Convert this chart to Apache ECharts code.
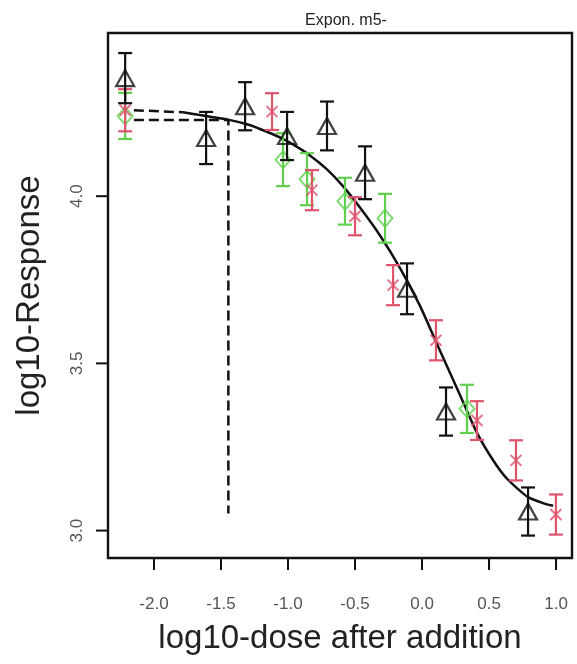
<!DOCTYPE html>
<html>
<head>
<meta charset="utf-8">
<script src="https://cdn.jsdelivr.net/npm/echarts@6/dist/echarts.min.js"></script>
<style>html,body{margin:0;padding:0;background:#fff}#c{width:577px;height:664px}</style>
</head>
<body>
<div id="c"></div>
<script>
// ---- data ----
const titleText = 'Expon. m5-';
const xTitle = 'log10-dose after addition';
const yTitle = 'log10-Response';
const xTicks = [-2.0, -1.5, -1.0, -0.5, 0.0, 0.5, 1.0];
const yTicks = [3.0, 3.5, 4.0];

const blackX = [-2.215, -1.611, -1.32, -1.007, -0.709, -0.425, -0.112, 0.179, 0.791];
const blackY = [4.353, 4.174, 4.269, 4.180, 4.210, 4.070, 3.723, 3.356, 3.057];
const blackErr = [0.075, 0.078, 0.072, 0.072, 0.073, 0.079, 0.076, 0.072, 0.072];

const redX = [-2.215, -1.119, -0.821, -0.500, -0.216, 0.104, 0.410, 0.701, 0.999];
const redY = [4.257, 4.253, 4.018, 3.940, 3.734, 3.569, 3.329, 3.210, 3.048];
const redErr = [0.063, 0.055, 0.060, 0.057, 0.060, 0.060, 0.058, 0.060, 0.060];

const greenX = [-2.215, -1.037, -0.858, -0.575, -0.276, 0.336];
const greenY = [4.240, 4.109, 4.051, 3.985, 3.934, 3.364];
const greenErr = [0.069, 0.079, 0.078, 0.070, 0.073, 0.072];

const curveX = [-1.784, -1.657, -1.448, -1.306, -1.209, -1.060, -0.963, -0.836, -0.709, -0.590, -0.463, -0.306, -0.164, -0.015, 0.104, 0.284, 0.410, 0.534, 0.634, 0.791, 0.918, 0.978];
const curveY = [4.251, 4.243, 4.229, 4.215, 4.201, 4.176, 4.155, 4.122, 4.080, 4.030, 3.966, 3.878, 3.785, 3.672, 3.565, 3.405, 3.292, 3.208, 3.155, 3.100, 3.080, 3.074];

const extX = [-2.15, -1.784];
const extY = [4.257, 4.251];

const edX = [-2.15, -1.445, -1.445];
const edY = [4.228, 4.228, 3.051];

const xMin = -2.343, xMax = 1.119, yMin = 2.918, yMax = 4.488;

// ---- helpers ----
const BLACK = '#111111', RED = '#DF536B', GREEN = '#61D04F';
const zip = (a, b) => a.map((v, i) => [v, b[i]]);
const errData = (xs, ys, es) => xs.map((x, i) => [x, ys[i] - es[i], ys[i] + es[i]]);

function errSeries(xs, ys, es, color, z) {
  return {
    type: 'custom', z: z, silent: true,
    data: errData(xs, ys, es),
    encode: { x: 0, y: [1, 2] },
    renderItem: function (params, api) {
      const lo = api.coord([api.value(0), api.value(1)]);
      const hi = api.coord([api.value(0), api.value(2)]);
      const w = 7;
      const st = { stroke: color, lineWidth: 2.2, fill: null };
      return {
        type: 'group',
        children: [
          { type: 'line', shape: { x1: lo[0], y1: lo[1], x2: hi[0], y2: hi[1] }, style: st },
          { type: 'line', shape: { x1: lo[0] - w, y1: lo[1], x2: lo[0] + w, y2: lo[1] }, style: st },
          { type: 'line', shape: { x1: hi[0] - w, y1: hi[1], x2: hi[0] + w, y2: hi[1] }, style: st }
        ]
      };
    }
  };
}

// axis ticks placed through the axis scales
function tickSeries(dim) {
  const vals = dim === 'x' ? xTicks : yTicks;
  return {
    type: 'custom', silent: true, clip: false, z: 10,
    data: vals.map(v => dim === 'x' ? [v, yMin] : [xMin, v]),
    encode: { x: 0, y: 1 },
    renderItem: function (params, api) {
      const p = api.coord([api.value(0), api.value(1)]);
      const shape = dim === 'x'
        ? { x1: p[0], y1: p[1], x2: p[0], y2: p[1] + 12 }
        : { x1: p[0] - 12, y1: p[1], x2: p[0], y2: p[1] };
      return { type: 'line', shape: shape, style: { stroke: BLACK, lineWidth: 2 } };
    }
  };
}

const chart = echarts.init(document.getElementById('c'), null, { renderer: 'canvas' });
const tickFont = { fontFamily: 'Liberation Sans, Arial', fontSize: 17, color: '#555' };

chart.setOption({
  animation: false,
  backgroundColor: '#fff',
  title: {
    text: titleText, left: 341, top: 8, textAlign: 'center',
    textStyle: { fontFamily: 'Liberation Sans, Arial', fontSize: 16, fontWeight: 'normal', color: '#222' }
  },
  grid: { left: 108, right: 5, top: 33, bottom: 106, show: true, borderColor: BLACK, borderWidth: 2.4, backgroundColor: 'transparent' },
  xAxis: {
    type: 'value', min: xMin, max: xMax,
    name: xTitle, nameLocation: 'middle', nameGap: 64,
    nameTextStyle: { fontFamily: 'Liberation Sans, Arial', fontSize: 33, color: '#222' },
    axisLine: { show: false },
    axisTick: { show: true, inside: false, length: 12, customValues: xTicks, lineStyle: { color: BLACK, width: 2 } },
    axisLabel: { customValues: xTicks, margin: 38, formatter: v => v.toFixed(1), ...tickFont },
    splitLine: { show: false }
  },
  yAxis: {
    type: 'value', min: yMin, max: yMax,
    name: yTitle, nameLocation: 'middle', nameGap: 62, nameRotate: 90,
    nameTextStyle: { fontFamily: 'Liberation Sans, Arial', fontSize: 33, color: '#222' },
    axisLine: { show: false, onZero: false },
    axisTick: { show: false },
    axisLabel: { customValues: yTicks, rotate: 90, margin: 22, formatter: v => v.toFixed(1), ...tickFont },
    splitLine: { show: false }
  },
  series: [
    { type: 'line', data: zip(curveX, curveY), smooth: 0.2, showSymbol: false, symbol: 'none', lineStyle: { color: BLACK, width: 2.5 }, z: 3, silent: true },
    { type: 'line', data: zip(extX, extY), showSymbol: false, symbol: 'none', lineStyle: { color: BLACK, width: 2.5, type: 'dashed', dashOffset: 0 }, z: 3, silent: true },
    { type: 'line', data: zip(edX, edY), showSymbol: false, symbol: 'none', lineStyle: { color: BLACK, width: 2.5, type: 'dashed', dashOffset: 0 }, z: 3, silent: true },
    errSeries(greenX, greenY, greenErr, GREEN, 4),
    errSeries(redX, redY, redErr, RED, 5),
    errSeries(blackX, blackY, blackErr, BLACK, 6),
    { type: 'scatter', data: zip(greenX, greenY), symbol: 'diamond', symbolSize: [15, 17], itemStyle: { color: 'rgba(255,255,255,0)', borderColor: GREEN, borderWidth: 2 }, z: 4, silent: true },
    { type: 'scatter', data: zip(redX, redY), symbol: 'path://M0,0L10,10M10,0L0,10', symbolSize: 11, itemStyle: { color: 'rgba(255,255,255,0)', borderColor: RED, borderWidth: 2 }, z: 5, silent: true },
    { type: 'scatter', data: zip(blackX, blackY), symbol: 'triangle', symbolSize: [18, 16], itemStyle: { color: 'rgba(255,255,255,0)', borderColor: BLACK, borderWidth: 2.2 }, z: 6, silent: true },
    tickSeries('x'),
    tickSeries('y')
  ]
});
</script>
</body>
</html>
